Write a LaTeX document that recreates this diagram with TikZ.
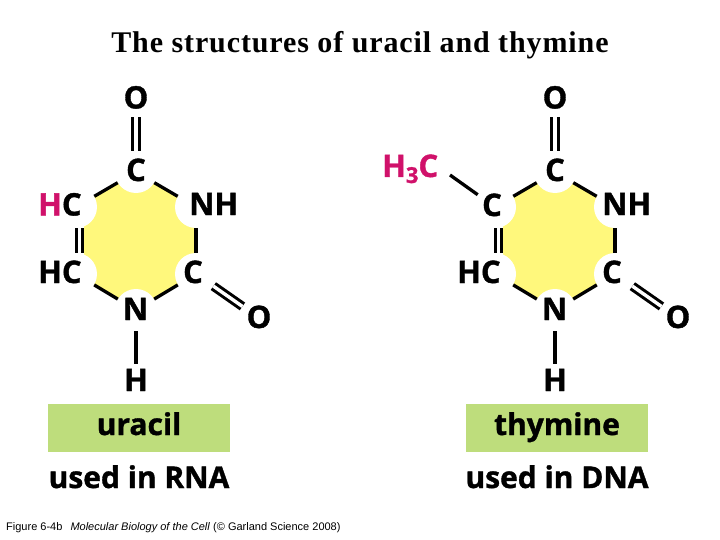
\documentclass[tikz,border=0pt]{standalone}
\usepackage{fontspec}
\setsansfont{Open Sans}
\newfontfamily\heavyfont[UprightFont=* Bold,RawFeature={embolden=1.2}]{Open Sans}
\newfontfamily\titlefont[UprightFont=* Bold,LetterSpace=3]{Liberation Serif}
\newfontfamily\notefont{Liberation Sans}
\definecolor{ringyellow}{RGB}{255,248,124}
\definecolor{namegreen}{RGB}{190,221,124}
\definecolor{subst}{RGB}{208,17,106}
\tikzset{
  atomcirc/.style={circle,fill=white,inner sep=0pt,minimum size=42pt},
  endcirc/.style={circle,inner sep=0pt,minimum size=#1},
  bond/.style={line width=3.3pt},
  dbond/.style={line width=3pt,double=white,double distance=3.4pt,draw=black},
  atomtxt/.style={inner sep=0pt,anchor=base,font=\heavyfont\fontsize{31}{31}\selectfont},
  atomleft/.style={atomtxt,anchor=base west},
  namebox/.style={fill=namegreen,inner sep=0pt,minimum width=182pt,minimum height=48pt},
  nametxt/.style={inner sep=0pt,anchor=base,font=\heavyfont\fontsize{30}{30}\selectfont},
  usetxt/.style={inner sep=0pt,anchor=base,font=\heavyfont\fontsize{30}{30}\selectfont}
}
\newcommand{\ringbase}{%
  \coordinate (v1) at (136,172);
  \coordinate (v2) at (196,207);
  \coordinate (v3) at (196,274);
  \coordinate (v4) at (136,310);
  \fill[ringyellow] (v1) -- (v2) -- (v3) -- (v4) -- (84,279) -- (84,202) -- cycle;
  \node[atomcirc] (a1) at (v1) {};
  \node[atomcirc] (a2) at (v2) {};
  \node[atomcirc] (a3) at (v3) {};
  \node[atomcirc] (a4) at (v4) {};
  \node[atomcirc] (a5) at (76,274) {};
  \node[atomcirc] (a6) at (76,207) {};
  \node[endcirc=40pt] (ot) at (136,97) {};
  \node[endcirc=40pt] (or) at (259,318) {};
  \node[endcirc=32pt] (hb) at (136,380) {};
  \draw[bond] (a1) -- (a2);
  \draw[bond] (a2) -- (a3);
  \draw[bond] (a3) -- (a4);
  \draw[bond] (a4) -- (a5);
  \draw[bond] (a6) -- (a1);
  \draw[bond] (a4) -- (hb);
  \draw[dbond] (a1) -- (ot);
  \draw[dbond] (a3) -- (or);
  \draw[dbond] ([xshift=3.6pt]a6.south) -- ([xshift=3.6pt]a5.north);
  \node[atomtxt] (to) at (136,108.5) {O};
  \node[atomtxt] (tc) at (136,181) {C};
  \node[atomtxt] (tcr) at (193,283) {C};
  \node[atomtxt] (tn) at (135.5,320) {N};
  \node[atomtxt] (tor) at (259,328) {O};
  \node[atomtxt] (th) at (136,391) {H};
  \node[atomleft] (thc) at (38,283) {HC};
}
\begin{document}
\begin{tikzpicture}[x=1pt,y=-1pt]
\useasboundingbox (0,0) rectangle (720,540);
\fill[white] (0,0) rectangle (720,540);
\node[inner sep=0pt,anchor=base,font=\titlefont\fontsize{30}{30}\selectfont] (title) at (360,53) {The structures of uracil and thymine};
% uracil
\begin{scope}[name prefix=u-]
\ringbase
\node[atomleft] (tnh) at (189,215) {NH};
\node[atomleft] (thm) at (38,215.5) {\textcolor{subst}{H}C};
\node[namebox] (box) at (139,428) {};
\node[nametxt] (nm) at (139,435) {uracil};
\node[usetxt] (us) at (139,488) {used in RNA};
\end{scope}
% thymine
\begin{scope}[shift={(419,0)},name prefix=t-]
\ringbase
\node[atomleft] (tnh) at (183,215) {NH};
\node[atomtxt] (tcl) at (73,216) {C};
\coordinate (me) at (31,175);
\draw[bond] (a6) -- (me);
\node[atomleft,text=subst] (tme) at (-37,177) {H\raisebox{-6pt}{\fontsize{22}{22}\selectfont 3}C};
\node[namebox] (box) at (138,428) {};
\node[nametxt] (nm) at (138,435) {thymine};
\node[usetxt] (us) at (138,488) {used in DNA};
\end{scope}
\node[inner sep=0pt,anchor=base west,font=\notefont\fontsize{11}{11}\selectfont] (fig) at (6,530) {Figure 6-4b\hspace{5pt} \textit{Molecular Biology of the Cell} (© Garland Science 2008)};
\end{tikzpicture}
\end{document}
